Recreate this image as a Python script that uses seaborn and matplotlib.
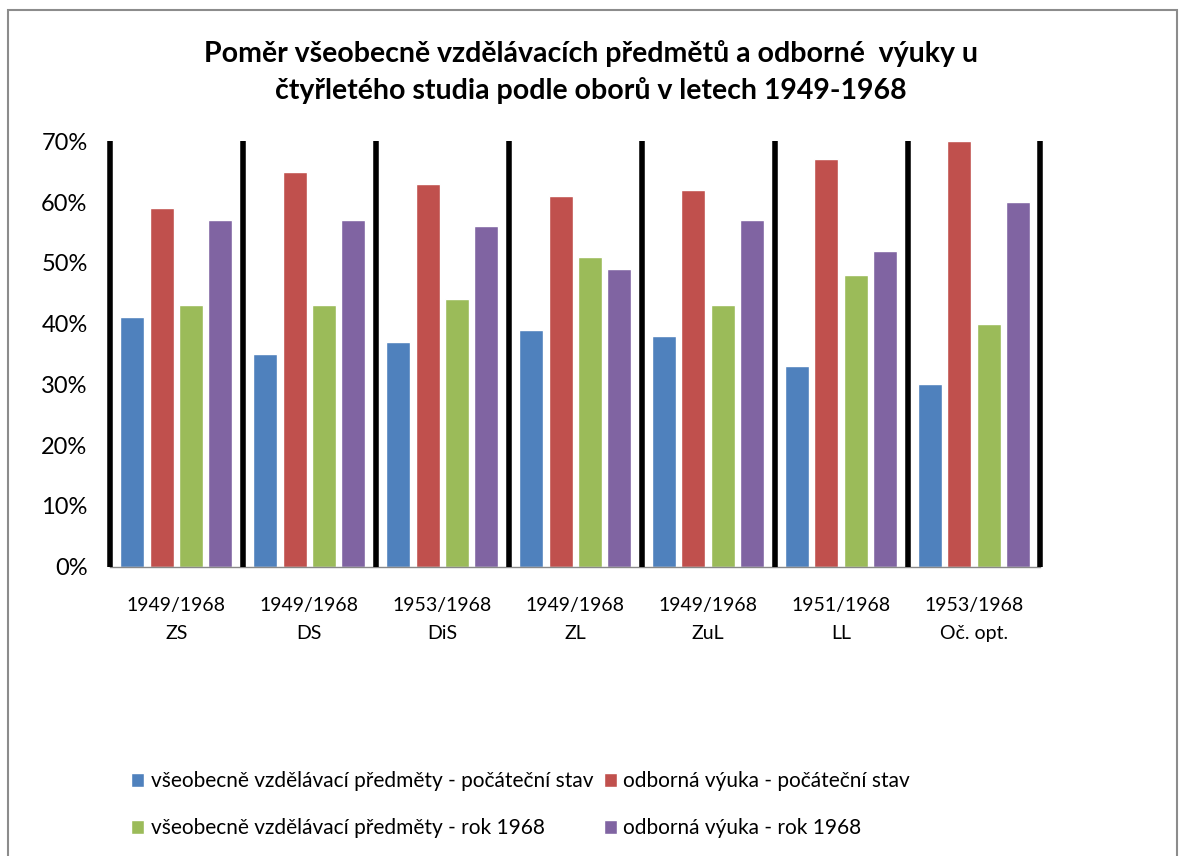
import numpy as np
import pandas as pd
import seaborn as sns
import matplotlib.pyplot as plt
from matplotlib.patches import Rectangle
from matplotlib.ticker import PercentFormatter

# data
groups = ["1949/1968\nZS", "1949/1968\nDS", "1953/1968\nDiS", "1949/1968\nZL",
          "1949/1968\nZuL", "1951/1968\nLL", "1953/1968\nOč. opt."]
series = ["všeobecně vzdělávací předměty - počáteční stav",
          "odborná výuka - počáteční stav",
          "všeobecně vzdělávací předměty - rok 1968",
          "odborná výuka - rok 1968"]
general_start = [41, 35, 37, 39, 38, 33, 30]
vocational_start = [59, 65, 63, 61, 62, 67, 70]
general_1968 = [43, 43, 44, 51, 43, 48, 40]
vocational_1968 = [57, 57, 56, 49, 57, 52, 60]
colors = ["#4F81BD", "#C0504D", "#9BBB59", "#8064A2"]

values = [general_start, vocational_start, general_1968, vocational_1968]
df = pd.DataFrame({
    "group": np.tile(groups, len(series)),
    "series": np.repeat(series, len(groups)),
    "value": np.concatenate(values) / 100,
})

sns.set_style("white")
plt.rcParams["font.family"] = ["Lato", "DejaVu Sans"]
plt.rcParams["text.color"] = "black"
plt.rcParams["xtick.color"] = "black"
plt.rcParams["ytick.color"] = "black"

fig = plt.figure(figsize=(11.81, 8.56), dpi=100)
ax = fig.add_axes([0.093, 0.338, 0.788, 0.497])

sns.barplot(data=df, x="group", y="value", hue="series", order=groups,
            hue_order=series, palette=colors, width=0.88, gap=0.18,
            saturation=1, ax=ax)

# thick black separators between the groups
ax.vlines(np.arange(len(groups) + 1) - 0.5, 0, 0.70, colors="black",
          linewidth=4, zorder=3, clip_on=False)

ax.set_xlim(-0.5, len(groups) - 0.5)
ax.set_ylim(0, 0.70)
ax.set_yticks(np.arange(0, 0.71, 0.1))
ax.yaxis.set_major_formatter(PercentFormatter(1.0, decimals=0))
ax.tick_params(axis="y", labelsize=17, pad=16, length=0)
ax.tick_params(axis="x", labelsize=14, pad=22, length=0)
for lbl in ax.get_xticklabels():
    lbl.set_linespacing(1.75)
ax.set_xlabel("")
ax.set_ylabel("")
for side in ["top", "right", "left"]:
    ax.spines[side].set_visible(False)
ax.spines["bottom"].set_color("#888888")
ax.spines["bottom"].set_linewidth(1)

fig.suptitle("Poměr všeobecně vzdělávacích předmětů a odborné  výuky u\n"
             "čtyřletého studia podle oborů v letech 1949-1968",
             fontsize=20.5, fontweight="bold", y=0.953, linespacing=1.45)

handles, labels = ax.get_legend_handles_labels()
ax.get_legend().remove()
order = [0, 2, 1, 3]
fig.legend([handles[i] for i in order], [labels[i] for i in order],
           loc="center left", bbox_to_anchor=(0.095, 0.06), ncol=2,
           frameon=False, fontsize=15, handlelength=0.65, handleheight=0.65,
           handletextpad=0.3, columnspacing=0.5, labelspacing=1.3)

# grey chart-area border
fig.patches.append(Rectangle((0.007, -0.05), 0.99, 1.038, transform=fig.transFigure,
                             fill=False, edgecolor="#8c8c8c", linewidth=1.5))

fig.savefig("out.png", dpi=100)
